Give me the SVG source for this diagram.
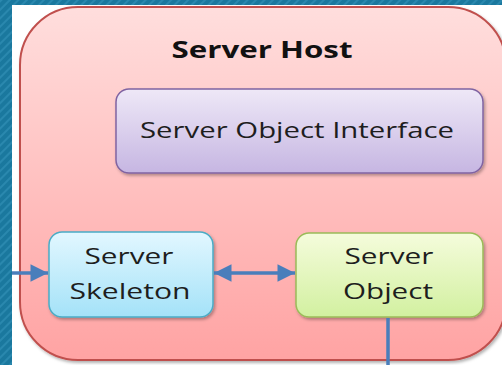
<svg xmlns="http://www.w3.org/2000/svg" width="502" height="365" viewBox="0 0 502 365">
  <defs>
    <pattern id="hatch" width="6" height="6" patternUnits="userSpaceOnUse" patternTransform="rotate(45)">
      <rect width="6" height="6" fill="#1a789e"/>
      <rect width="2" height="6" fill="#2a88ae"/>
    </pattern>
    <linearGradient id="gHost" x1="0" y1="0" x2="0" y2="1">
      <stop offset="0" stop-color="#ffdedd"/>
      <stop offset="1" stop-color="#ffa3a3"/>
    </linearGradient>
    <linearGradient id="gPurple" x1="0" y1="0" x2="0" y2="1">
      <stop offset="0" stop-color="#eee8f7"/>
      <stop offset="1" stop-color="#c6b6e2"/>
    </linearGradient>
    <linearGradient id="gBlue" x1="0" y1="0" x2="0" y2="1">
      <stop offset="0" stop-color="#e2f7ff"/>
      <stop offset="1" stop-color="#a4e2f8"/>
    </linearGradient>
    <linearGradient id="gGreen" x1="0" y1="0" x2="0" y2="1">
      <stop offset="0" stop-color="#f5fcdc"/>
      <stop offset="1" stop-color="#d2f0a0"/>
    </linearGradient>
    <filter id="sh" x="-10%" y="-10%" width="130%" height="130%">
      <feDropShadow dx="1.5" dy="2" stdDeviation="1.5" flood-color="#000" flood-opacity="0.3"/>
    </filter>
    <marker id="ah" viewBox="0 0 10 10" refX="10" refY="5" markerWidth="6" markerHeight="5" markerUnits="strokeWidth" orient="auto-start-reverse">
      <path d="M0,0 L10,5 L0,10 Z" fill="#4a7ebb"/>
    </marker>
    <style>
      .lbl { font-family: "Open Sans", "Noto Sans", "Liberation Sans", sans-serif; fill: #1e1e1e; font-size: 21px; }
      .title { font-family: "Open Sans", "Noto Sans", "Liberation Sans", sans-serif; font-weight: bold; fill: #111; font-size: 24px; }
      .conn { stroke: #4a7ebb; stroke-width: 3.5; fill: none; }
    </style>
  </defs>

  <!-- background -->
  <rect x="0" y="0" width="502" height="365" fill="url(#hatch)"/>
  <rect x="12" y="5" width="490" height="360" fill="#ffffff"/>

  <g id="server-host">
    <rect x="20" y="7" width="486" height="353" rx="58" ry="58" fill="url(#gHost)" stroke="#c0504d" stroke-width="2" filter="url(#sh)"/>
    <text class="title" x="262" y="58" text-anchor="middle" textLength="181" lengthAdjust="spacingAndGlyphs">Server Host</text>
  </g>

  <g id="server-object-interface">
    <rect x="116" y="89" width="367" height="84" rx="13" fill="url(#gPurple)" stroke="#8064a2" stroke-width="1.5" filter="url(#sh)"/>
    <text class="lbl" x="297" y="138" text-anchor="middle" textLength="314" lengthAdjust="spacingAndGlyphs">Server Object Interface</text>
  </g>

  <g id="server-skeleton">
    <rect x="49" y="232" width="164" height="85" rx="13" fill="url(#gBlue)" stroke="#4bacc6" stroke-width="1.5" filter="url(#sh)"/>
    <text class="lbl" x="129" y="264" text-anchor="middle" textLength="89" lengthAdjust="spacingAndGlyphs">Server</text>
    <text class="lbl" x="130" y="299" text-anchor="middle" textLength="121" lengthAdjust="spacingAndGlyphs">Skeleton</text>
  </g>

  <g id="server-object">
    <rect x="296" y="233" width="187" height="84" rx="13" fill="url(#gGreen)" stroke="#9bbb59" stroke-width="1.5" filter="url(#sh)"/>
    <text class="lbl" x="389" y="264" text-anchor="middle" textLength="89" lengthAdjust="spacingAndGlyphs">Server</text>
    <text class="lbl" x="388" y="299" text-anchor="middle" textLength="90" lengthAdjust="spacingAndGlyphs">Object</text>
  </g>

  <g id="connectors">
    <line class="conn" x1="12" y1="273" x2="48" y2="273" marker-end="url(#ah)"/>
    <line class="conn" x1="214" y1="273" x2="295" y2="273" marker-start="url(#ah)" marker-end="url(#ah)"/>
    <line class="conn" x1="388" y1="318" x2="388" y2="365"/>
  </g>
</svg>
